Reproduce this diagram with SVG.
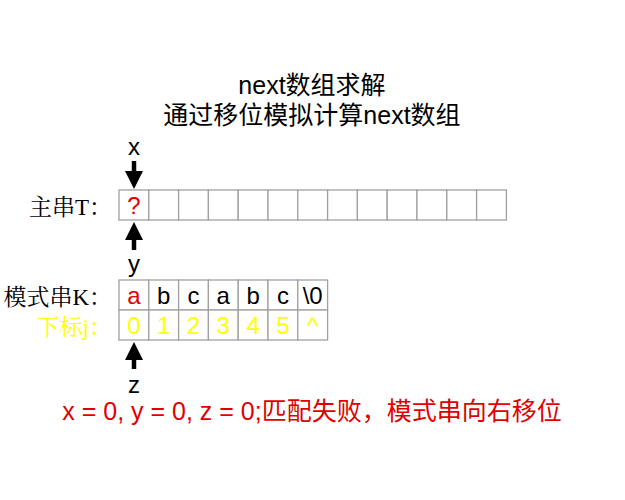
<svg xmlns="http://www.w3.org/2000/svg" width="625" height="500" viewBox="0 0 625 500">
<style>
.c{fill:#fff;stroke:#a0a0a0;stroke-width:1.3}
.s{font-family:"Liberation Sans","Noto Sans CJK SC",sans-serif;font-size:24px;text-anchor:middle}
.l{font-family:"Liberation Serif","Noto Serif CJK SC","Noto Sans CJK SC",serif;font-size:23px;text-anchor:end}
.t{font-family:"Liberation Sans","Noto Sans CJK SC",sans-serif;font-size:25px;text-anchor:middle}
</style>
<defs>
<marker id="ah" markerWidth="4" markerHeight="4" refX="2" refY="2" orient="auto" markerUnits="strokeWidth"><path d="M0,0L4,2L0,4Z" fill="#000"/></marker>
</defs>
<rect width="625" height="500" fill="#fff"/>
<g id="title">
<text class="t" x="312" y="94">next数组求解</text>
<text class="t" x="312" y="124">通过移位模拟计算next数组</text>
</g>
<g id="mainT">
<text class="l" x="112" y="215">主串T：</text>
<rect class="c" x="119" y="190" width="29.8" height="30"/><rect class="c" x="148.8" y="190" width="29.8" height="30"/><rect class="c" x="178.6" y="190" width="29.8" height="30"/><rect class="c" x="208.4" y="190" width="29.8" height="30"/><rect class="c" x="238.2" y="190" width="29.8" height="30"/><rect class="c" x="268" y="190" width="29.8" height="30"/><rect class="c" x="297.8" y="190" width="29.8" height="30"/><rect class="c" x="327.6" y="190" width="29.8" height="30"/><rect class="c" x="357.4" y="190" width="29.8" height="30"/><rect class="c" x="387.2" y="190" width="29.8" height="30"/><rect class="c" x="417" y="190" width="29.8" height="30"/><rect class="c" x="446.8" y="190" width="29.8" height="30"/><rect class="c" x="476.6" y="190" width="29.8" height="30"/>
<text class="s" x="134" y="214" fill="#e00000">?</text>
</g>
<g id="patternK">
<text class="l" x="112" y="305">模式串K：</text>
<rect class="c" x="119" y="280" width="29.8" height="30"/><rect class="c" x="148.8" y="280" width="29.8" height="30"/><rect class="c" x="178.6" y="280" width="29.8" height="30"/><rect class="c" x="208.4" y="280" width="29.8" height="30"/><rect class="c" x="238.2" y="280" width="29.8" height="30"/><rect class="c" x="268" y="280" width="29.8" height="30"/><rect class="c" x="297.8" y="280" width="29.8" height="30"/>
<text class="s" x="134" y="304" fill="#e00000">a</text><text class="s" x="163.7" y="304">b</text><text class="s" x="193.5" y="304">c</text><text class="s" x="223.3" y="304">a</text><text class="s" x="253.1" y="304">b</text><text class="s" x="282.9" y="304">c</text><text class="s" x="312.7" y="304">\0</text>
</g>
<g id="indexJ">
<text class="l" x="112" y="335" fill="#ffff00">下标j：</text>
<rect class="c" x="119" y="310" width="29.8" height="30"/><rect class="c" x="148.8" y="310" width="29.8" height="30"/><rect class="c" x="178.6" y="310" width="29.8" height="30"/><rect class="c" x="208.4" y="310" width="29.8" height="30"/><rect class="c" x="238.2" y="310" width="29.8" height="30"/><rect class="c" x="268" y="310" width="29.8" height="30"/><rect class="c" x="297.8" y="310" width="29.8" height="30"/>
<g fill="#ffff00"><text class="s" x="134" y="334">0</text><text class="s" x="163.7" y="334">1</text><text class="s" x="193.5" y="334">2</text><text class="s" x="223.3" y="334">3</text><text class="s" x="253.1" y="334">4</text><text class="s" x="282.9" y="334">5</text><text class="s" x="312.7" y="334">^</text></g>
</g>
<g id="pointers">
<text class="s" x="134" y="155">x</text>
<text class="s" x="134" y="272">y</text>
<text class="s" x="134" y="393">z</text>
</g>
<g id="connectors" stroke="#000" stroke-width="4.5">
<line x1="134" y1="161" x2="134" y2="180" marker-end="url(#ah)"/>
<line x1="134" y1="250" x2="134" y2="231" marker-end="url(#ah)"/>
<line x1="134" y1="369" x2="134" y2="351" marker-end="url(#ah)"/>
</g>
<g id="caption">
<text x="312" y="420" font-family="Liberation Sans,Noto Sans CJK SC,sans-serif" font-size="25" fill="#e00000" text-anchor="middle">x = 0, y = 0, z = 0;匹配失败，模式串向右移位</text>
</g>
</svg>
